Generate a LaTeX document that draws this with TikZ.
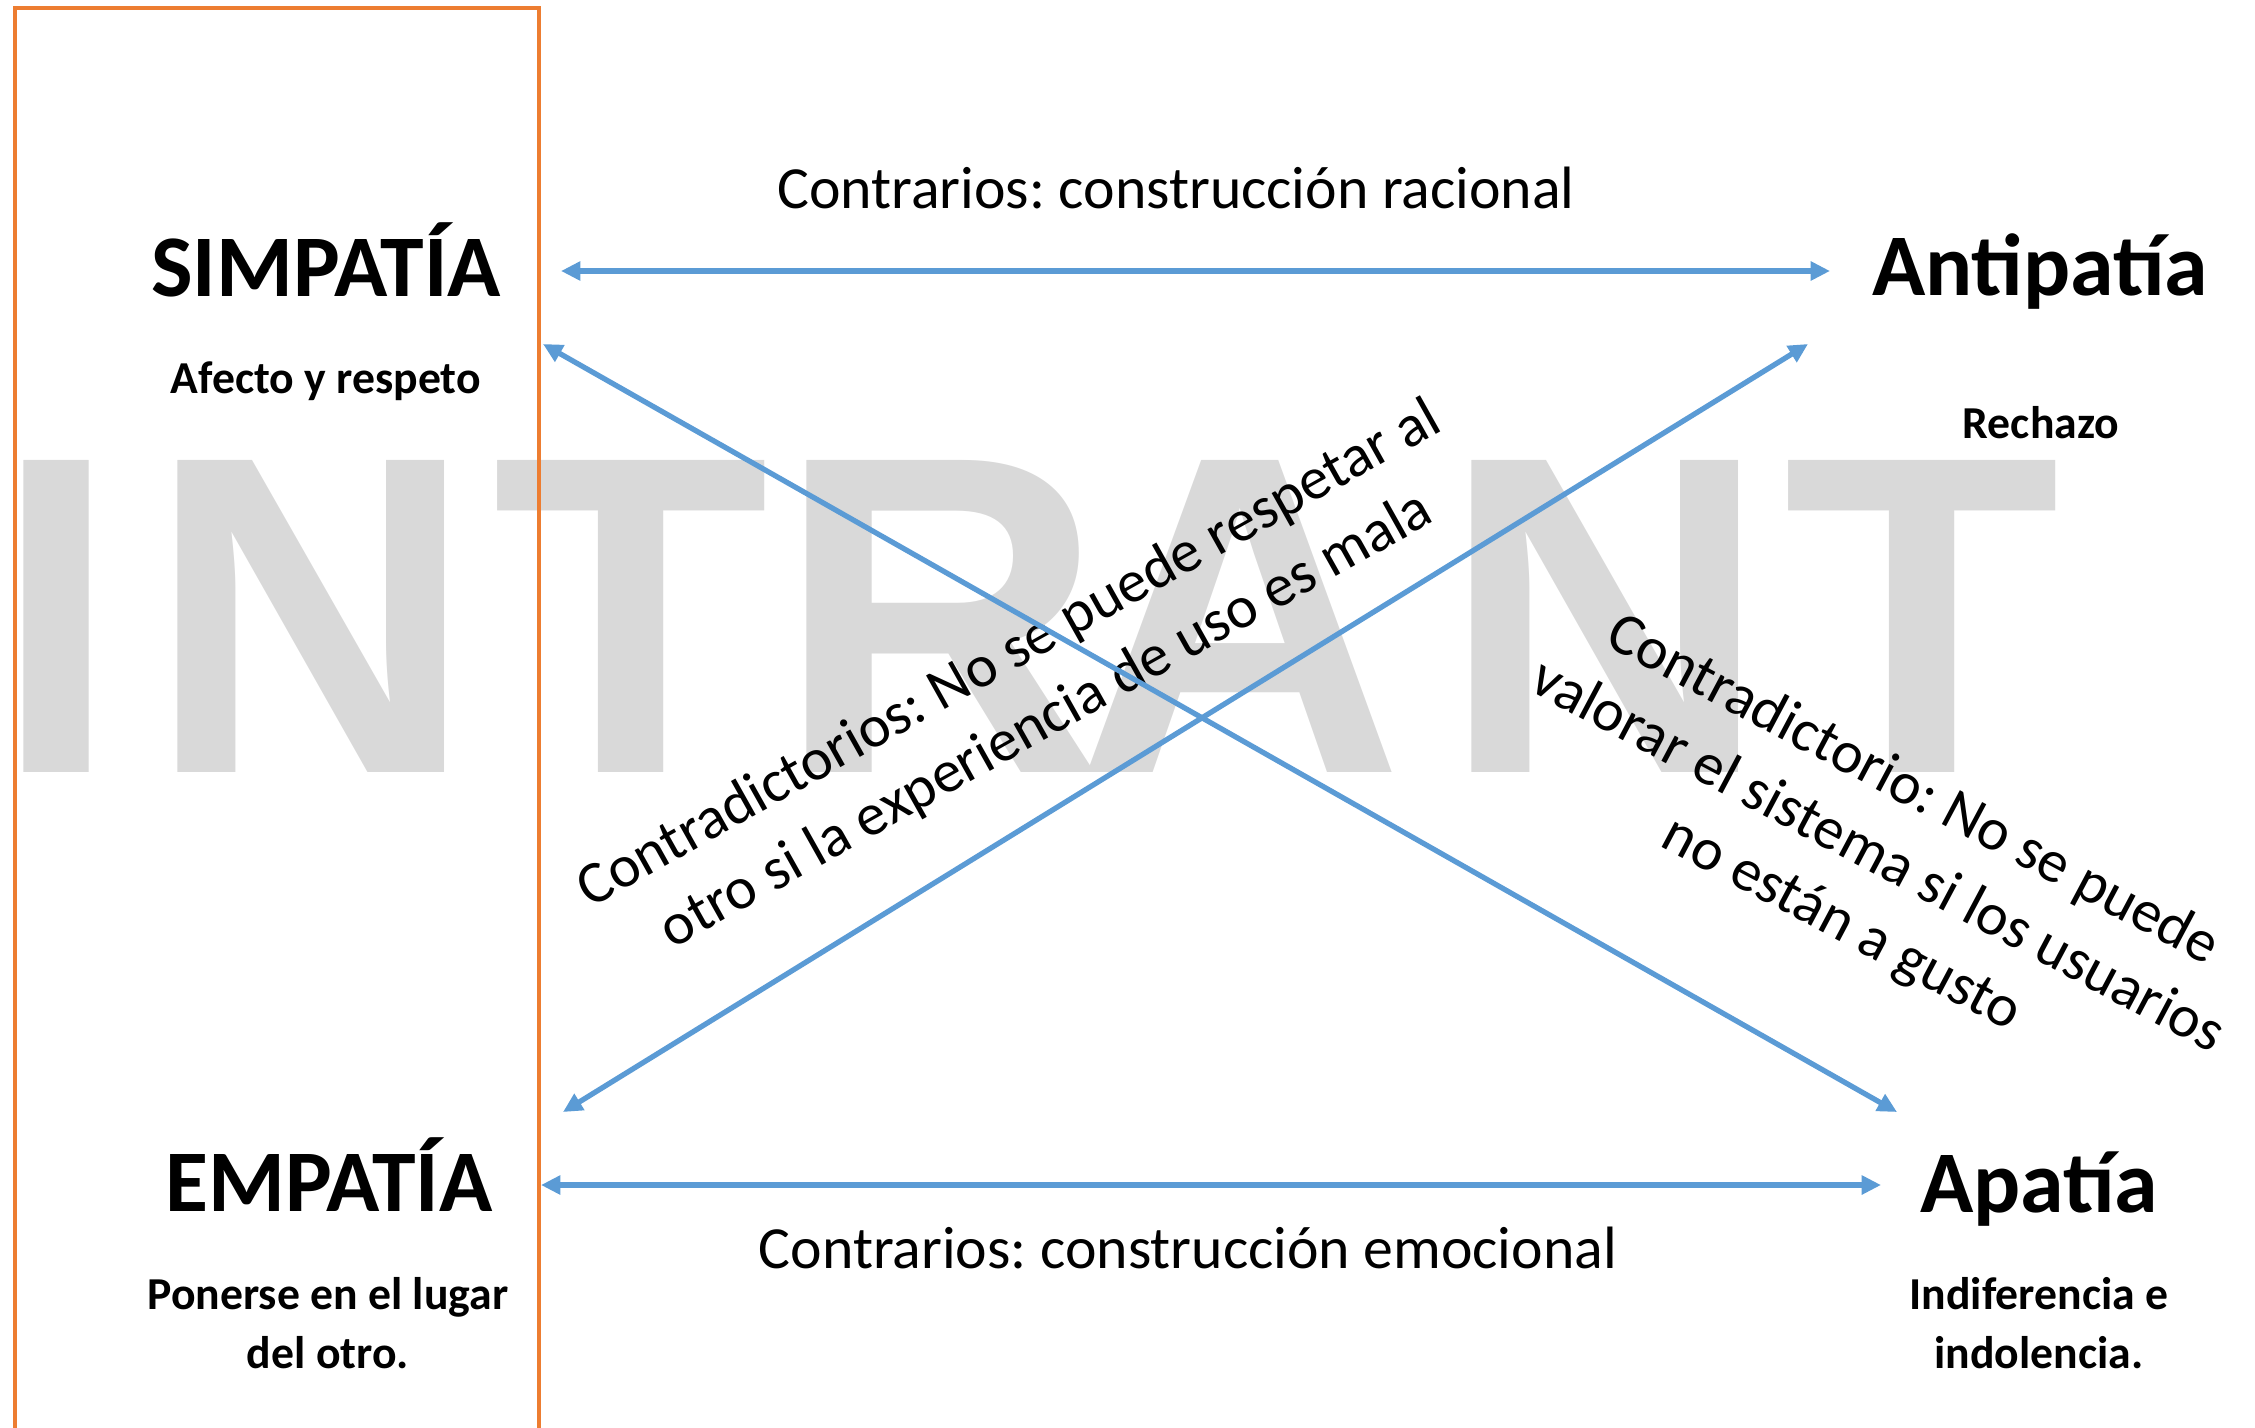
\documentclass[tikz,border=0pt]{standalone}
\usepackage{fontspec}
\setmainfont{Carlito}
\newfontfamily\markfont{Liberation Sans}
\usetikzlibrary{arrows.meta}
\definecolor{linkblue}{HTML}{5B9BD5}
\definecolor{frameorange}{HTML}{ED7D31}
\definecolor{markgray}{HTML}{D9D9D9}
\tikzset{
  title/.style={font=\bfseries\fontsize{25}{30}\selectfont,inner sep=0pt,anchor=base},
  sub/.style={font=\bfseries\fontsize{13}{16.5}\selectfont,inner sep=0pt,anchor=base,align=center},
  rel/.style={font=\fontsize{17}{21.5}\selectfont,inner sep=0pt,align=center},
  link/.style={linkblue,line width=1.5pt,{Triangle[length=5.5pt,width=5.2pt]}-{Triangle[length=5.5pt,width=5.2pt]}},
  wmark/.style={markgray,font=\markfont\bfseries\fontsize{129}{129}\selectfont,inner sep=0pt,anchor=base}
}

\begin{document}
\frenchspacing
\begin{tikzpicture}[x=0.01cm,y=-0.01cm]
\useasboundingbox (0,0) rectangle (2255,1427);
\clip (0,0) rectangle (2255,1427);
% watermark
\foreach \ch/\cx [count=\i] in {I/57,N/311,T/631,R/940,A/1240,N/1605,T/1922}
  \node[wmark] (mark\i) at (\cx,772) {\ch};
\draw[frameorange,line width=0.9pt] (15,8) rectangle (539,1450);
% terms
\node[title] (simp) at (326,296) {SIMPATÍA};
\node[sub] (simp-sub) at (326,393) {Afecto y respeto};
\node[title] (anti) at (2040,295) {Antipatía};
\node[sub] (anti-sub) at (2041,438) {Rechazo};
\node[title] (emp) at (329,1211) {EMPATÍA};
\node[sub] (emp-sub) at (328,1368) {Ponerse en el lugar\\del otro.};
\node[title] (apat) at (2039,1212) {Apatía};
\node[sub] (apat-sub) at (2039,1368) {Indiferencia e\\indolencia.};
% relations
\node[rel,anchor=base] (rac) at (1176,208) {Contrarios: construcción racional};
\node[rel,anchor=base] (emo) at (1188,1268) {Contrarios: construcción emocional};
\node[rel,rotate=29.3] (contr1) at (1028,688) {Contradictorios: No se puede respetar al\\otro si la experiencia de uso es mala};
\node[rel,rotate=-28] (contr2) at (1877,858) {Contradictorio: No se puede\\valorar el sistema si los usuarios\\no están a gusto};
% arrow ends
\coordinate (simp-r) at (561,271);
\coordinate (anti-l) at (1830,271);
\coordinate (emp-r) at (541,1185);
\coordinate (apat-l) at (1881,1185);
\coordinate (simp-d) at (543,344);
\coordinate (apat-u) at (1897,1112);
\coordinate (emp-u) at (563,1112);
\coordinate (anti-d) at (1808,344);
\draw[link] (simp-r) -- (anti-l);
\draw[link] (emp-r) -- (apat-l);
\draw[link] (simp-d) -- (apat-u);
\draw[link] (emp-u) -- (anti-d);
\end{tikzpicture}
\end{document}
